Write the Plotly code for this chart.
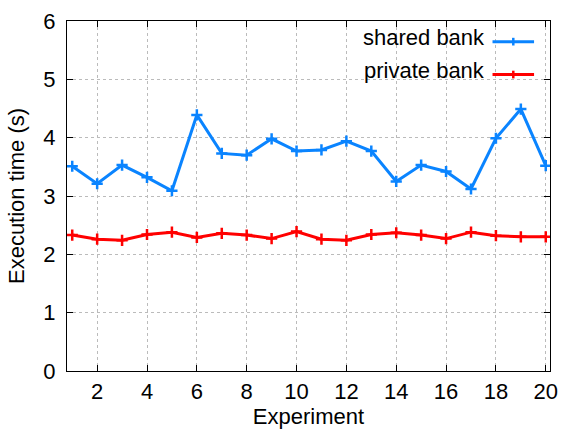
import plotly.graph_objects as go

# Execution time per experiment run, in seconds
experiments = list(range(1, 21))
shared_bank = [3.51, 3.21, 3.53, 3.32, 3.09, 4.39, 3.73, 3.70, 3.98, 3.77,
               3.79, 3.94, 3.77, 3.25, 3.53, 3.42, 3.12, 3.99, 4.49, 3.52]
private_bank = [2.33, 2.26, 2.24, 2.34, 2.38, 2.29, 2.36, 2.33, 2.27, 2.39,
                2.26, 2.24, 2.34, 2.37, 2.33, 2.27, 2.38, 2.32, 2.30, 2.30]

series_names = ["shared bank", "private bank"]
series_colors = ["#0a84ff", "#ff0000"]

FONT = "Liberation Sans, Arial, sans-serif"
FSIZE = 22

fig = go.Figure()
for name, values, color in zip(series_names, [shared_bank, private_bank], series_colors):
    fig.add_trace(go.Scatter(
        x=experiments, y=values, name=name, mode="lines+markers",
        line=dict(color=color, width=3),
        marker=dict(symbol="cross-thin", size=8, color=color,
                    line=dict(color=color, width=2.5)),
        showlegend=False,
    ))

# gnuplot-style key: label on the left, line sample on the right
key_rows = [0.941, 0.847]
for name, color, ky in zip(series_names, series_colors, key_rows):
    fig.add_annotation(xref="paper", yref="paper", x=0.869, y=ky + 0.012,
                       text=name, showarrow=False, xanchor="right", yanchor="middle",
                       font=dict(family=FONT, size=FSIZE, color="black"))
    fig.add_shape(type="line", xref="paper", yref="paper",
                  x0=0.881, x1=0.967, y0=ky, y1=ky,
                  line=dict(color=color, width=3))
    fig.add_shape(type="line", xref="paper", yref="paper",
                  x0=0.924, x1=0.924, y0=ky - 0.011, y1=ky + 0.011,
                  line=dict(color=color, width=2.5))

axis_common = dict(
    showline=True, mirror="ticks", linecolor="black", linewidth=1,
    ticks="inside", ticklen=6, tickcolor="black",
    showgrid=True, gridcolor="#bbbbbb", griddash="dot", gridwidth=1,
    zeroline=False,
    tickfont=dict(family=FONT, size=FSIZE, color="black"),
)

fig.update_xaxes(range=[0.79, 20.17], tickmode="linear", tick0=0, dtick=2,
                 title=dict(text="Experiment", font=dict(family=FONT, size=FSIZE, color="black"),
                            standoff=2),
                 ticklabelstandoff=1,
                 **axis_common)
fig.update_yaxes(range=[0, 6], tickmode="linear", tick0=0, dtick=1,
                 title=dict(text="Execution time (s)", font=dict(family=FONT, size=FSIZE, color="black"),
                            standoff=12),
                 ticklabelstandoff=6,
                 **axis_common)

fig.update_layout(
    width=567, height=431,
    margin=dict(l=67, r=9, t=19, b=51),
    paper_bgcolor="white", plot_bgcolor="white",
    font=dict(family=FONT, color="black"),
)

fig.write_html("out.html")
